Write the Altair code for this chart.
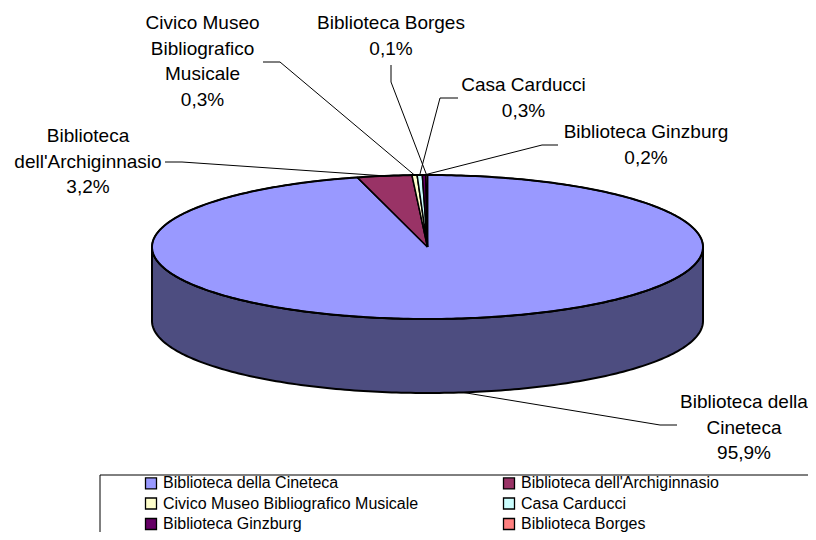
import altair as alt
import numpy as np
import pandas as pd

# ---------------- data ----------------
categories = [
    "Biblioteca della Cineteca",
    "Biblioteca dell'Archiginnasio",
    "Civico Museo Bibliografico Musicale",
    "Casa Carducci",
    "Biblioteca Ginzburg",
    "Biblioteca Borges",
]
shares = [95.9, 3.2, 0.3, 0.3, 0.2, 0.1]
label_names = [
    "Biblioteca della\nCineteca",
    "Biblioteca\ndell'Archiginnasio",
    "Civico Museo\nBibliografico\nMusicale",
    "Casa Carducci",
    "Biblioteca Ginzburg",
    "Biblioteca Borges",
]

# ---------------- styles ----------------
top_colors = ["#9999FF", "#993366", "#FFFFCC", "#CCFFFF", "#660066", "#FF8080"]
side_colors = ["#4D4D80", "#4D1A33", "#808066", "#668080", "#330033", "#804040"]
FONT = "Liberation Sans"

# ---------------- layout (chart pixels) ----------------
W, H = 800, 524
CX, CY, RX, RY, DEPTH = 419.5, 239.0, 275.5, 72.0, 74.0
label_x = [736, 80, 194.5, 515.5, 638, 383]
label_y = [394, 128, 15, 77, 124, 15]          # centre of first text line
tail_pts = [(669, 417), (157, 154), (255, 54), (450, 90), (550, 137), (383, 57)]
knee_pts = [(652, 417), (174, 154), (272, 54), (432, 90), (534, 137), (383, 74)]


def ell(theta_deg, drop=0.0):
    t = np.radians(theta_deg)
    return CX + RX * np.sin(t), CY - RY * np.cos(t) + drop


total = sum(shares)
spans = [s / total * 360.0 for s in shares]
starts = list(np.cumsum([0.0] + spans[:-1]))

# top slices and side walls
top_rows, side_rows = [], []
for k, (name, a0, sp) in enumerate(zip(categories, starts, spans)):
    a1 = a0 + sp
    n = max(2, int(sp) + 2)
    pts = [(CX, CY)] + [ell(a) for a in np.linspace(a0, a1, n)] + [(CX, CY)]
    for i, (x, y) in enumerate(pts):
        top_rows.append({"poly": name, "name": name, "i": i, "x": x, "y": y})
    lo, hi = max(a0, 90.0), min(a1, 270.0)
    if hi > lo:
        m = max(2, int(hi - lo) + 2)
        arc = np.linspace(lo, hi, m)
        spts = [ell(a) for a in arc] + [ell(a, DEPTH) for a in arc[::-1]]
        spts.append(spts[0])
        for i, (x, y) in enumerate(spts):
            side_rows.append({"poly": "side " + name, "side": name, "i": i, "x": x, "y": y})

top_df = pd.DataFrame(top_rows)
side_df = pd.DataFrame(side_rows)

# outline of the top ellipse
out_df = pd.DataFrame(
    [{"i": i, "x": ell(a)[0], "y": ell(a)[1]} for i, a in enumerate(np.linspace(0, 360, 361))]
)

# labels and leader lines
lab_rows, lead_rows = [], []
for k, name in enumerate(categories):
    pct = f"{shares[k]:.1f}".replace(".", ",") + "%"
    lab_rows.append({"txt": label_names[k] + "\n" + pct, "x": label_x[k], "y": label_y[k]})
    mid = starts[k] + spans[k] / 2
    drop = DEPTH if np.cos(np.radians(mid)) < 0 else 0.0
    px, py = ell(mid, drop)
    for i, (x, y) in enumerate([tail_pts[k], knee_pts[k], (px, py)]):
        lead_rows.append({"name": name, "i": i, "x": x, "y": y})
lab_df = pd.DataFrame(lab_rows)
lead_df = pd.DataFrame(lead_rows)

xs = alt.Scale(domain=[0, W], nice=False, zero=False)
ys = alt.Scale(domain=[0, H], nice=False, zero=False, reverse=True)
X = lambda: alt.X("x:Q", scale=xs, axis=None)
Y = lambda: alt.Y("y:Q", scale=ys, axis=None)

side = alt.Chart(side_df).mark_line(stroke="black", strokeWidth=2, strokeJoin="round").encode(
    x=X(), y=Y(), detail="poly:N", order="i:Q",
    fill=alt.Fill("side:N", scale=alt.Scale(domain=categories, range=side_colors), legend=None),
)

top = alt.Chart(top_df).mark_line(stroke="black", strokeWidth=1.5, strokeJoin="round").encode(
    x=X(), y=Y(), detail="poly:N", order="i:Q",
    fill=alt.Fill(
        "name:N",
        scale=alt.Scale(domain=categories, range=top_colors),
        legend=alt.Legend(
            title=None, orient="none", legendX=135, legendY=467, columns=2,
            direction="horizontal",
            symbolType="square", symbolSize=121, symbolStrokeColor="black",
            symbolStrokeWidth=1.3, labelFont=FONT, labelFontSize=16, labelColor="black",
            labelOffset=4, rowPadding=2.5, columnPadding=81, padding=0, labelLimit=400,
        ),
    ),
)

outline = alt.Chart(out_df).mark_line(stroke="black", strokeWidth=2).encode(
    x=X(), y=Y(), order="i:Q"
)

leaders = alt.Chart(lead_df).mark_line(stroke="black", strokeWidth=1).encode(
    x=X(), y=Y(), detail="name:N", order="i:Q"
)

labels = alt.Chart(lab_df).mark_text(
    font=FONT, fontSize=19, color="black", align="center", baseline="middle",
    lineBreak="\n", lineHeight=25.5,
).encode(x=X(), y=Y(), text="txt:N")

box = alt.Chart(pd.DataFrame({"a": [0]})).mark_rect(
    fill=None, stroke="black", strokeWidth=1
).encode(x=alt.value(92), x2=alt.value(830), y=alt.value(467), y2=alt.value(570))

chart = (
    alt.layer(side, top, outline, leaders, labels, box)
    .resolve_scale(fill="independent")
    .properties(width=W, height=H, padding=0, autosize=alt.AutoSizeParams(type="none"))
    .configure_view(stroke=None)
)

chart.save("out.html", embed_options={"renderer": "svg", "actions": False})
